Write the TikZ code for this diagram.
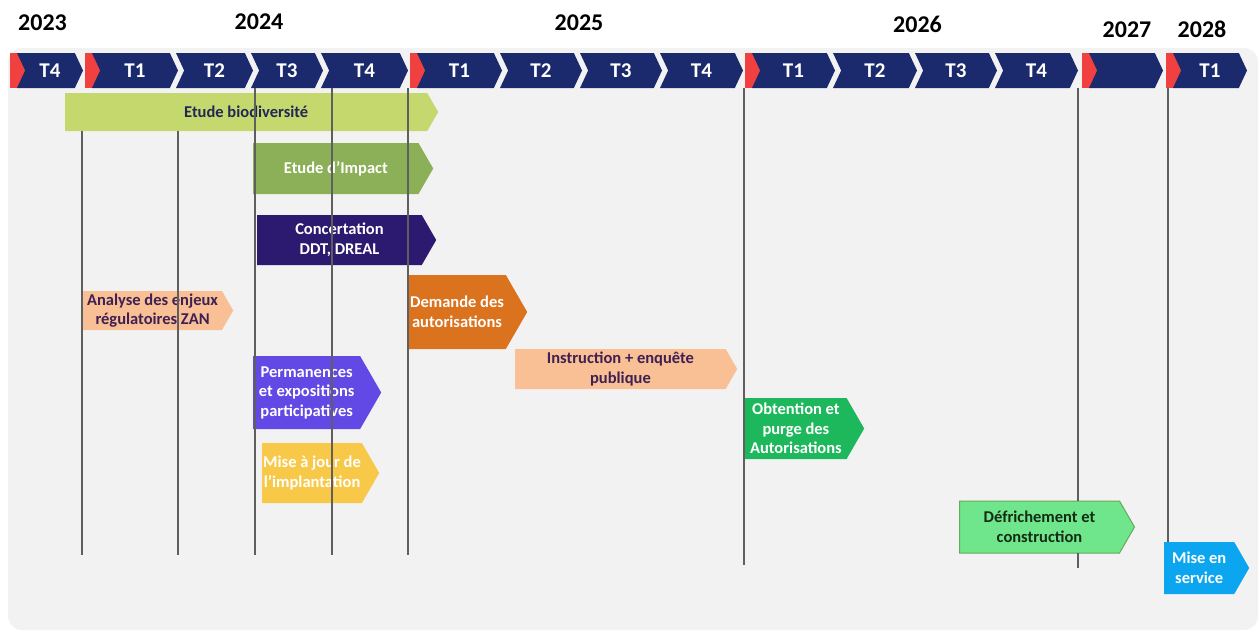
\documentclass[tikz,border=0pt]{standalone}
\usepackage{fontspec}
\setmainfont{Carlito}
\usetikzlibrary{positioning, shapes.symbols}

\definecolor{hdrnavy}{RGB}{27,42,108}
\definecolor{hdrred}{RGB}{240,64,64}
\definecolor{panelgray}{RGB}{242,242,242}
\definecolor{gridgray}{RGB}{95,95,95}
\definecolor{biogreen}{RGB}{197,216,110}
\definecolor{impactgreen}{RGB}{140,176,88}
\definecolor{concnavy}{RGB}{44,26,112}
\definecolor{peach}{RGB}{248,192,148}
\definecolor{orangedem}{RGB}{218,114,30}
\definecolor{permviolet}{RGB}{98,72,228}
\definecolor{majyellow}{RGB}{248,200,72}
\definecolor{obtgreen}{RGB}{30,184,92}
\definecolor{defgreen}{RGB}{112,230,140}
\definecolor{defborder}{RGB}{100,170,90}
\definecolor{servblue}{RGB}{12,166,240}
\definecolor{darktxt}{RGB}{34,40,84}
\definecolor{plumtxt}{RGB}{62,32,84}
\definecolor{deftxt}{RGB}{20,44,20}

\begin{document}
\begin{tikzpicture}
    [
        x=1pt, y=-1pt,
        year_label/.style={font=\fontsize{24}{26}\selectfont\bfseries, text=black, inner sep=0pt},
        quarter_node/.style={signal, signal from=west, signal to=east, signal pointer angle=130, fill=hdrnavy, text=white, inner sep=0pt, minimum height=35pt, font=\fontsize{21}{23}\selectfont\bfseries},
        task_node/.style={signal, signal to=east, signal pointer angle=120, anchor=west, inner sep=0pt, align=center, font=\fontsize{16.5}{19.5}\selectfont\bfseries},
        grid_line/.style={draw=gridgray, line width=1.4pt},
    ]
        \useasboundingbox (0,0) rectangle (1258,632);
        \fill[panelgray, rounded corners=14pt] (8,48) rectangle (1258,630);

        \node[year_label] (y2023) at (42.5,23) {2023};
        \node[year_label] (y2024) at (259,21.5) {2024};
        \node[year_label] (y2025) at (579,23) {2025};
        \node[year_label] (y2026) at (917.5,24.5) {2026};
        \node[year_label] (y2027) at (1127,30) {2027};
        \node[year_label] (y2028) at (1202,29.5) {2028};

        \fill[hdrred] (10,53) rectangle (26,88);
        \fill[hdrred] (85,53) rectangle (101,88);
        \fill[hdrred] (410,53) rectangle (426,88);
        \fill[hdrred] (745,53) rectangle (761,88);
        \fill[hdrred] (1082,53) rectangle (1098,88);
        \fill[hdrred] (1166,53) rectangle (1182,88);

        \node[quarter_node, minimum width=66pt] (q23d) at (50,70.5) {T4};
        \node[quarter_node, minimum width=86pt] (q24a) at (135,70.5) {T1};
        \node[quarter_node, minimum width=77pt] (q24b) at (214.5,70.5) {T2};
        \node[quarter_node, minimum width=72pt] (q24c) at (287,70.5) {T3};
        \node[quarter_node, minimum width=87pt] (q24d) at (364.5,70.5) {T4};
        \node[quarter_node, minimum width=85pt] (q25a) at (459.5,70.5) {T1};
        \node[quarter_node, minimum width=82pt] (q25b) at (541,70.5) {T2};
        \node[quarter_node, minimum width=82pt] (q25c) at (621,70.5) {T3};
        \node[quarter_node, minimum width=83pt] (q25d) at (701.5,70.5) {T4};
        \node[quarter_node, minimum width=83pt] (q26a) at (793.5,70.5) {T1};
        \node[quarter_node, minimum width=84pt] (q26b) at (875,70.5) {T2};
        \node[quarter_node, minimum width=82pt] (q26c) at (956,70.5) {T3};
        \node[quarter_node, minimum width=83pt] (q26d) at (1036.5,70.5) {T4};
        \node[quarter_node, minimum width=74pt] (q27) at (1126,70.5) {};
        \node[quarter_node, minimum width=74pt] (q28a) at (1210,70.5) {T1};

        \node[task_node, fill=biogreen, text=darktxt, minimum width=373pt, minimum height=38pt] (bio) at (65,112) {Etude biodiversité};
        \node[task_node, fill=impactgreen, text=white, minimum width=180pt, minimum height=51pt] (impact) at (253,168.5) {Etude d’Impact};
        \node[task_node, fill=concnavy, text=white, minimum width=179pt, minimum height=50pt] (concert) at (257,240) {Concertation\\DDT, DREAL};
        \node[task_node, fill=peach, text=plumtxt, minimum width=150pt, minimum height=39pt] (zan) at (83,310.5) {Analyse des enjeux\\régulatoires ZAN};
        \node[task_node, fill=orangedem, text=white, minimum width=119pt, minimum height=74pt] (demande) at (408,312) {Demande des\\autorisations};
        \node[task_node, fill=permviolet, text=white, minimum width=128pt, minimum height=73pt] (perm) at (253,392.5) {Permanences\\et expositions\\participatives};
        \node[task_node, fill=majyellow, text=white, minimum width=117pt, minimum height=60pt] (maj) at (262,473) {Mise à jour de\\l’implantation};
        \node[task_node, fill=peach, text=plumtxt, minimum width=222pt, minimum height=40pt] (instr) at (515,369) {Instruction + enquête\\publique};
        \node[task_node, fill=obtgreen, text=white, minimum width=119pt, minimum height=61pt] (obtention) at (745,428.5) {Obtention et\\purge des\\Autorisations};
        \node[task_node, fill=defgreen, draw=defborder, line width=1pt, text=deftxt, minimum width=175pt, minimum height=52pt] (defrich) at (959,527) {Défrichement et\\construction};
        \node[task_node, fill=servblue, text=white, minimum width=85pt, minimum height=52pt] (service) at (1164,568) {Mise en\\service};

        \draw[grid_line] (82,131) -- (82,555);
        \draw[grid_line] (178,131) -- (178,555);
        \draw[grid_line] (255,88) -- (255,555);
        \draw[grid_line] (332,88) -- (332,555);
        \draw[grid_line] (408,88) -- (408,555);
        \draw[grid_line] (744,88) -- (744,565);
        \draw[grid_line] (1078,88) -- (1078,501);
        \draw[grid_line] (1078,553) -- (1078,568);
        \draw[grid_line] (1168,88) -- (1168,542);
    \end{tikzpicture}
\end{document}
